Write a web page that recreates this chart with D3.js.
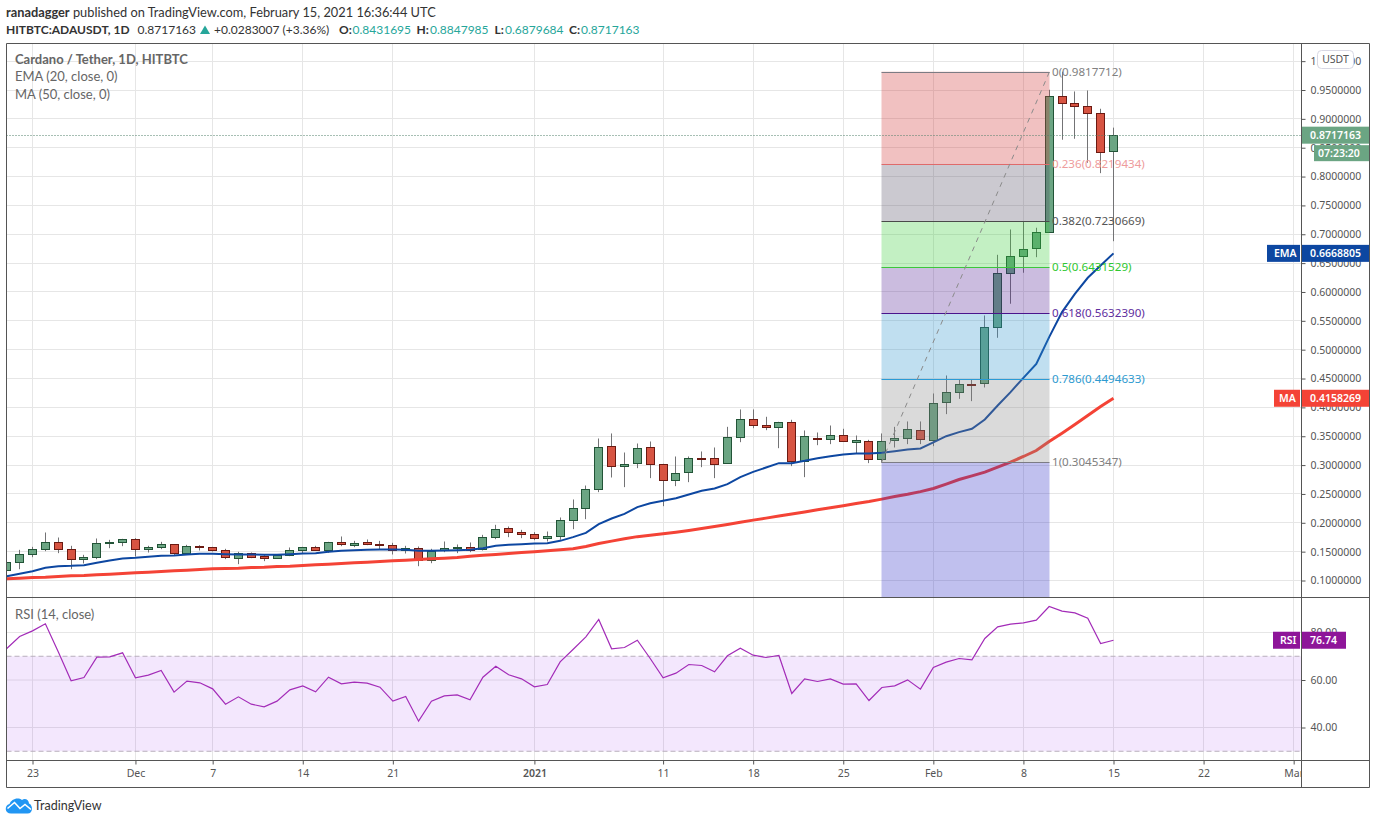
<!DOCTYPE html>
<html>
<head>
<meta charset="utf-8">
<style>
  html, body { margin: 0; padding: 0; background: #fff; }
  svg { display: block; }
  text { font-family: "Noto Sans", sans-serif; }
  .head { font-family: Lato, sans-serif; font-size: 12px; fill: #333; }
  .axis text { font-size: 10.5px; fill: #555; }
  .axis line { stroke: #555; }
  .axis path { display: none; }
  .fib { font-size: 11.6px; }
  .tag { font-size: 10.5px; fill: #fff; font-weight: 600; }
</style>
</head>
<body>
<svg id="chart" width="1376" height="824"></svg>
<script src="https://cdn.jsdelivr.net/npm/d3@7"></script>
<script>
// daily candles, first one is 21 Nov 2020
var firstDay = new Date(Date.UTC(2020, 10, 21));
var opens = [.1179,.1324,.1462,.1543,.1670,.1549,.1370,.1404,.1647,.1664,
  .1722,.1543,.1578,.1630,.1474,.1601,.1583,.1526,.1387,.1479,.1416,.1393,.1445,.1531,.1583,.1531,.1670,.1618,.1659,.1635,.1618,.1531,.1566,.1358,.1526,.1560,.1583,.1543,.1757,.1913,.1843,
  .1809,.1739,.1774,.2051,.2259,.2589,.3334,.2982,.3039,.3317,.3022,.2745,.2883,.3126,.3126,.3039,.3490,.3802,.3698,.3663,.3750,.3074,.3473,.3455,.3525,.3403,.3421,.3109,.3438,.3473,.3611,
  .3432,.4096,.4270,.4408,.4420,.5396,.6332,.6627,.6766,.7043,.9400,.9279,.9227,.9106,.8431695];
var highs = [.1347,.1531,.1583,.1832,.1745,.1601,.1445,.1728,.1705,.1722,
  .1734,.1601,.1670,.1630,.1618,.1612,.1583,.1549,.1497,.1485,.1439,.1445,.1572,.1583,.1601,.1670,.1763,.1687,.1711,.1687,.1653,.1601,.1589,.1549,.1676,.1624,.1659,.1791,.1965,.1936,.1878,
  .1838,.1849,.2092,.2404,.2646,.3461,.3548,.3218,.3374,.3409,.3022,.3149,.3149,.3236,.3305,.3663,.3964,.3964,.3837,.3750,.3785,.3600,.3565,.3686,.3629,.3513,.3438,.3548,.3663,.3756,.3756,
  .4241,.4553,.4484,.4484,.5593,.6644,.7083,.7217,.7113,.9504,.9818,.9475,.9492,.9175,.8847985];
var lows = [.1144,.1196,.1404,.1508,.1474,.1196,.1295,.1370,.1560,.1595,
  .1416,.1485,.1543,.1445,.1474,.1520,.1503,.1370,.1283,.1387,.1335,.1387,.1422,.1474,.1526,.1479,.1595,.1578,.1612,.1537,.1451,.1468,.1248,.1300,.1491,.1474,.1491,.1520,.1716,.1751,.1734,
  .1699,.1676,.1705,.1890,.2063,.2531,.2785,.2618,.2947,.2774,.2288,.2635,.2704,.2964,.2774,.3022,.3397,.3640,.3605,.3293,.2982,.2791,.3345,.3363,.3403,.3207,.3034,.3045,.3305,.3363,.3363,
  .3328,.3883,.4148,.4108,.4345,.5206,.5796,.6333,.6603,.7043,.8638,.8655,.8239,.8059,.6879684];
var closes = [.1324,.1462,.1549,.1670,.1549,.1376,.1410,.1653,.1659,.1722,
  .1549,.1583,.1635,.1474,.1601,.1578,.1531,.1410,.1479,.1410,.1387,.1445,.1531,.1583,.1531,.1670,.1635,.1653,.1630,.1618,.1531,.1566,.1358,.1514,.1566,.1583,.1537,.1757,.1895,.1843,.1809,
  .1739,.1774,.2051,.2259,.2589,.3317,.2982,.3022,.3299,.3022,.2745,.2866,.3126,.3103,.3022,.3490,.3802,.3698,.3663,.3750,.3074,.3507,.3449,.3525,.3421,.3438,.3109,.3421,.3473,.3629,.3455,
  .4079,.4270,.4408,.4385,.5396,.6332,.6627,.6742,.7043,.9400,.9279,.9227,.9106,.8432,.8717163];
var emaValues = [.1075,.1116,.1162,.1220,.1248,.1254,.1266,.1306,.1347,.1381,
  .1393,.1410,.1428,.1433,.1451,.1462,.1462,.1456,.1451,.1451,.1445,.1445,.1456,.1468,.1474,.1497,.1514,.1526,.1531,.1537,.1537,.1531,.1514,.1514,.1520,.1526,.1531,.1560,.1601,.1618,.1630,
  .1641,.1647,.1687,.1751,.1826,.1976,.2075,.2155,.2271,.2340,.2381,.2427,.2490,.2554,.2594,.2670,.2791,.2883,.2958,.3034,.3034,.3074,.3120,.3155,.3184,.3201,.3201,.3213,.3241,.3270,.3288,
  .3392,.3501,.3571,.3629,.3790,.4033,.4264,.4512,.4755,.5217,.5651,.5968,.6246,.6459,.6669];
var maValues = [.1029,.1040,.1052,.1058,.1069,.1081,.1087,.1098,.1110,.1121,
  .1135,.1144,.1156,.1168,.1179,.1191,.1202,.1208,.1214,.1225,.1231,.1243,.1248,.1260,.1272,.1283,.1295,.1306,.1318,.1329,.1342,.1352,.1364,.1376,.1387,.1399,.1422,.1437,.1451,.1466,.1485,
  .1500,.1514,.1531,.1549,.1589,.1641,.1682,.1722,.1760,.1786,.1812,.1838,.1867,.1901,.1936,.1971,.2011,.2046,.2081,.2116,.2152,.2188,.2225,.2259,.2294,.2334,.2369,.2410,.2456,.2495,.2540,
  .2595,.2670,.2750,.2814,.2878,.2964,.3051,.3149,.3253,.3409,.3553,.3704,.3860,.4016,.4158];
var rsiValues = [73.26,78.32,80.70,83.65,71.86,59.65,61.05,69.61,69.75,71.44,
  60.91,62.04,64.00,54.88,59.51,58.81,56.28,49.82,52.91,49.82,48.70,51.09,55.86,57.54,55.02,61.19,58.39,59.09,58.67,56.98,51.09,53.05,42.67,51.09,53.33,53.75,51.65,61.19,65.82,62.18,60.49,
  57.12,58.11,67.65,72.84,78.18,85.47,73.12,73.68,76.77,69.05,60.91,62.88,66.53,66.11,63.44,70.18,73.40,70.46,69.47,70.32,54.32,60.49,59.37,60.49,58.25,58.39,51.37,56.84,57.54,60.07,56.14,
  65.26,67.51,69.05,68.49,77.47,82.39,83.51,84.07,85.19,90.95,88.98,88.28,86.03,75.37,76.74];

var priceTicks = [.1,.15,.2,.25,.3,.35,.4,.45,.5,.55,.6,.65,.7,.75,.8,.85,.9,.95,1];
var rsiTicks = [40, 60, 80];
var rsiBand = [70, 30];
var dateTicks = [[2020,10,23,"23"],[2020,11,1,"Dec"],[2020,11,7,"7"],[2020,11,14,"14"],[2020,11,21,"21"],[2021,0,1,"2021"],[2021,0,11,"11"],[2021,0,18,"18"],[2021,0,25,"25"],[2021,1,1,"Feb"],[2021,1,8,"8"],[2021,1,15,"15"],[2021,1,22,"22"],[2021,2,1,"Mar"]];

// retracement drawn from the 28 Jan low to the 10 Feb high
var fibStart = new Date(Date.UTC(2021, 0, 28));
var fibEnd = new Date(Date.UTC(2021, 1, 10));
var fibPrices = [0.9817712, 0.8219434, 0.7230669, 0.6431529, 0.5632390, 0.4494633, 0.3045347];
var fibLabels = ["0(0.9817712)", "0.236(0.8219434)", "0.382(0.7230669)", "0.5(0.6431529)", "0.618(0.5632390)", "0.786(0.4494633)", "1(0.3045347)"];
var fibLineColors = ["#7c7c84", "#e06a6a", "#4a4a4a", "#3cc53c", "#4a148c", "#2a9bd6", "#7c7c84"];
var fibTextColors = ["#808080", "#ee9c9c", "#555555", "#2fc72f", "#5e2d9e", "#2d9ad0", "#808080"];
var fibFills = ["rgba(210,50,50,.3)", "rgba(82,75,98,.3)", "rgba(55,205,55,.3)", "rgba(82,32,148,.3)", "rgba(48,148,205,.3)", "rgba(132,132,132,.3)", "rgba(45,45,198,.3)"];

var GREEN = "#6ba583", GREEN_EDGE = "#225437", RED = "#d75442", RED_EDGE = "#6b1a12";
var EMA_COLOR = "#0d47a1", MA_COLOR = "#f44336", RSI_COLOR = "#a32cb8";

var left = 6.5, right = 1301.5, outerRight = 1369.5, top_ = 43.5, mainBottom = 597.5, rsiBottom = 760.5, outerBottom = 787.5;

var days = d3.utcDay.range(firstDay, new Date(Date.UTC(2021, 1, 16)));
var x = d3.scaleUtc()
  .domain([new Date(Date.UTC(2020, 10, 23)), new Date(Date.UTC(2021, 1, 15))])
  .range([32.5, 1113.5]);
var y = d3.scaleLinear().domain([0.1, 0.95]).range([580.5, 90]);
var yRsi = d3.scaleLinear().domain([40, 80]).range([727.5, 632.5]);

function px(d) { return Math.round(x(d) - 0.5) + 0.5; }

var svg = d3.select("#chart");
var defs = svg.append("defs");
defs.append("clipPath").attr("id", "mainClip").append("rect")
  .attr("x", left).attr("y", top_).attr("width", right - left).attr("height", mainBottom - top_);
defs.append("clipPath").attr("id", "rsiClip").append("rect")
  .attr("x", left).attr("y", mainBottom).attr("width", right - left).attr("height", rsiBottom - mainBottom);
defs.append("clipPath").attr("id", "timeClip").append("rect")
  .attr("x", left).attr("y", rsiBottom).attr("width", right - left).attr("height", outerBottom - rsiBottom);

var tickDates = dateTicks.map(function (t) { return new Date(Date.UTC(t[0], t[1], t[2])); });

// grid
var grid = svg.append("g").attr("stroke", "#e6e6e6").attr("stroke-width", 1);
grid.selectAll(".vg").data(tickDates).enter().append("line")
  .attr("x1", px).attr("x2", px).attr("y1", top_).attr("y2", rsiBottom);
grid.selectAll(".hg").data(priceTicks).enter().append("line")
  .attr("x1", left).attr("x2", right)
  .attr("y1", function (d) { return Math.round(y(d) - 0.5) + 0.5; })
  .attr("y2", function (d) { return Math.round(y(d) - 0.5) + 0.5; });
grid.selectAll(".hr").data(rsiTicks).enter().append("line")
  .attr("x1", left).attr("x2", right)
  .attr("y1", yRsi).attr("y2", yRsi);

// candles
var candles = svg.append("g").attr("clip-path", "url(#mainClip)");
var candle = candles.selectAll("g").data(days).enter().append("g");
candle.append("line")
  .attr("x1", px).attr("x2", px)
  .attr("y1", function (d, i) { return y(highs[i]); })
  .attr("y2", function (d, i) { return y(lows[i]); })
  .attr("stroke", "#737375");
candle.append("rect")
  .attr("x", function (d) { return px(d) - 4; })
  .attr("width", 8)
  .attr("y", function (d, i) { return Math.round(y(Math.max(opens[i], closes[i]))) + 0.5; })
  .attr("height", function (d, i) { return Math.max(1, Math.round(Math.abs(y(opens[i]) - y(closes[i])))); })
  .attr("fill", function (d, i) { return closes[i] >= opens[i] ? GREEN : RED; })
  .attr("stroke", function (d, i) { return closes[i] >= opens[i] ? GREEN_EDGE : RED_EDGE; });

// moving averages
var priceLine = d3.line().x(function (d, i) { return x(days[i]); }).y(function (d) { return y(d); });
candles.append("path").attr("d", priceLine(maValues))
  .attr("fill", "none").attr("stroke", MA_COLOR).attr("stroke-width", 3);
candles.append("path").attr("d", priceLine(emaValues))
  .attr("fill", "none").attr("stroke", EMA_COLOR).attr("stroke-width", 2);

// fib overlay sits over the candles
var fib = svg.append("g").attr("clip-path", "url(#mainClip)");
var fibX0 = px(fibStart), fibX1 = px(fibEnd);
fibPrices.forEach(function (p, i) {
  var yTop = y(p);
  var yBot = i < fibPrices.length - 1 ? y(fibPrices[i + 1]) : mainBottom;
  fib.append("rect").attr("x", fibX0).attr("width", fibX1 - fibX0)
    .attr("y", yTop).attr("height", yBot - yTop).attr("fill", fibFills[i]);
});
fib.selectAll("line.level").data(fibPrices).enter().append("line")
  .attr("class", "level")
  .attr("x1", fibX0).attr("x2", fibX1)
  .attr("y1", function (d) { return Math.round(y(d)) + 0.5; })
  .attr("y2", function (d) { return Math.round(y(d)) + 0.5; })
  .attr("stroke", function (d, i) { return fibLineColors[i]; });
fib.append("line")
  .attr("x1", fibX0).attr("y1", y(fibPrices[6]))
  .attr("x2", fibX1).attr("y2", y(fibPrices[0]))
  .attr("stroke", "#8a8a8a").attr("stroke-dasharray", "5 5");
svg.selectAll("text.fib").data(fibLabels).enter().append("text")
  .attr("class", "fib")
  .attr("x", fibX1 + 2.5)
  .attr("y", function (d, i) { return y(fibPrices[i]) + 4; })
  .attr("fill", function (d, i) { return fibTextColors[i]; })
  .text(function (d) { return d; });

// last price line
svg.append("line")
  .attr("x1", left).attr("x2", right)
  .attr("y1", Math.round(y(closes[closes.length - 1])) + 0.5)
  .attr("y2", Math.round(y(closes[closes.length - 1])) + 0.5)
  .attr("stroke", "#4f7f68").attr("stroke-dasharray", "1 2");

// rsi pane
svg.append("rect")
  .attr("x", left).attr("width", right - left)
  .attr("y", yRsi(rsiBand[0])).attr("height", yRsi(rsiBand[1]) - yRsi(rsiBand[0]))
  .attr("fill", "rgba(150,40,235,.11)");
svg.selectAll("line.band").data(rsiBand).enter().append("line")
  .attr("class", "band")
  .attr("x1", left).attr("x2", right)
  .attr("y1", yRsi).attr("y2", yRsi)
  .attr("stroke", "#b8aebc").attr("stroke-dasharray", "5 3");
var rsiLine = d3.line().x(function (d, i) { return x(days[i]); }).y(function (d) { return yRsi(d); });
svg.append("path").attr("d", rsiLine(rsiValues))
  .attr("clip-path", "url(#rsiClip)")
  .attr("fill", "none").attr("stroke", RSI_COLOR).attr("stroke-width", 1.2);

// axes
var priceAxis = d3.axisRight(y).tickValues(priceTicks).tickFormat(d3.format(".7f")).tickSize(4).tickPadding(5);
svg.append("g").attr("class", "axis").attr("transform", "translate(" + right + ",0)").call(priceAxis);
var rsiAxis = d3.axisRight(yRsi).tickValues(rsiTicks).tickFormat(d3.format(".2f")).tickSize(4).tickPadding(5);
svg.append("g").attr("class", "axis").attr("transform", "translate(" + right + ",0)").call(rsiAxis);
var timeAxis = d3.axisBottom(x).tickValues(tickDates)
  .tickFormat(function (d, i) { return dateTicks[i][3]; }).tickSize(4).tickPadding(5);
// clip on a wrapper so "Mar" is cut at the price scale
var timeG = svg.append("g").attr("clip-path", "url(#timeClip)").append("g").attr("class", "axis")
  .attr("transform", "translate(0," + rsiBottom + ")").call(timeAxis);
timeG.selectAll("text").filter(function (d, i) { return dateTicks[i][3] === "2021"; }).attr("font-weight", 600);

// frame
var frame = [[left, top_, outerRight, top_], [left, top_, left, outerBottom], [left, outerBottom, outerRight, outerBottom],
  [outerRight, top_, outerRight, outerBottom], [right, top_, right, outerBottom],
  [left, mainBottom, outerRight, mainBottom], [left, rsiBottom, outerRight, rsiBottom]];
svg.selectAll("line.frame").data(frame).enter().append("line")
  .attr("class", "frame")
  .attr("x1", function (d) { return d[0]; }).attr("y1", function (d) { return d[1]; })
  .attr("x2", function (d) { return d[2]; }).attr("y2", function (d) { return d[3]; })
  .attr("stroke", "#555");

// price tags on the axis
function tag(x0, x1, cy, h, color, label, anchorX) {
  svg.append("rect").attr("x", x0).attr("y", cy - h / 2).attr("width", x1 - x0).attr("height", h).attr("fill", color);
  svg.append("text").attr("class", "tag").attr("x", anchorX).attr("y", cy + 4).text(label);
}
var lastY = y(closes[closes.length - 1]);
tag(1302, 1369, lastY, 17, GREEN, "0.8717163", 1310);
tag(1314, 1369, lastY + 18, 16, GREEN, "07:23:20", 1318);
var emaY = y(emaValues[emaValues.length - 1]);
tag(1267, 1300, emaY, 17, EMA_COLOR, "EMA", 1274);
tag(1302, 1369, emaY, 17, EMA_COLOR, "0.6668805", 1310);
var maY = y(maValues[maValues.length - 1]);
tag(1274, 1300, maY, 17, MA_COLOR, "MA", 1279);
tag(1302, 1369, maY, 17, MA_COLOR, "0.4158269", 1310);
var rsiY = yRsi(rsiValues[rsiValues.length - 1]);
tag(1273, 1300, rsiY, 17, "#8e1599", "RSI", 1280);
tag(1302, 1346, rsiY, 17, "#8e1599", "76.74", 1310);

// currency button
svg.append("rect").attr("x", 1317.5).attr("y", 50.5).attr("width", 36).attr("height", 18).attr("rx", 4)
  .attr("fill", "#fff").attr("stroke", "#d8d8e4");
svg.append("text").attr("x", 1335.5).attr("y", 63).attr("text-anchor", "middle")
  .attr("font-size", 10.5).attr("fill", "#555").text("USDT");

// pane legends
svg.append("text").attr("class", "head").attr("x", 15).attr("y", 64)
  .style("font-size", "13px").style("font-weight", 700).style("fill", "#666").text("Cardano / Tether, 1D, HITBTC");
svg.append("text").attr("class", "head").attr("x", 15).attr("y", 81)
  .style("font-size", "13px").style("fill", "#666").text("EMA (20, close, 0)");
svg.append("text").attr("class", "head").attr("x", 15).attr("y", 99)
  .style("font-size", "13px").style("fill", "#666").text("MA (50, close, 0)");
svg.append("text").attr("class", "head").attr("x", 15).attr("y", 619)
  .style("font-size", "13px").style("fill", "#666").text("RSI (14, close)");

// header
var h1 = svg.append("text").attr("class", "head").attr("x", 6).attr("y", 17).style("font-size", "12.8px");
h1.append("tspan").style("font-weight", 700).text("ranadagger");
h1.append("tspan").text(" published on TradingView.com, February 15, 2021 16:36:44 UTC");
var TEAL = "#26a69a";
var header2 = [[6, "HITBTC:ADAUSDT, 1D", "#333", 700], [137.5, "0.8717163", "#333", 400],
  [214, "+0.0283007 (+3.36%)", "#333", 400], [339, "O:", "#333", 700], [352.5, "0.8431695", TEAL, 400],
  [416.5, "H:", "#333", 700], [430, "0.8847985", TEAL, 400], [494.5, "L:", "#333", 700], [505, "0.6879684", TEAL, 400],
  [569, "C:", "#333", 700], [581, "0.8717163", TEAL, 400]];
svg.selectAll("text.h2").data(header2).enter().append("text")
  .attr("class", "head h2")
  .attr("x", function (d) { return d[0]; }).attr("y", 34)
  .style("fill", function (d) { return d[2]; })
  .style("font-weight", function (d) { return d[3]; })
  .text(function (d) { return d[1]; });
svg.append("path").attr("d", "M200 34 L205 25.5 L210 34 Z").attr("fill", TEAL);

// logo
var logo = svg.append("g");
logo.append("path")
  .attr("d", "M11 813.5 C4.5 813.5 4 805.5 9.5 804 C11 799.5 17.5 796.5 22 800 C25 797.5 29 800 29 803.5 C33 805 33.5 813.5 27.5 813.5 Z")
  .attr("fill", "#2196f3");
logo.append("path").attr("d", "M7.5 808.5 L14.5 802.5 L20 808.5 L25 804.5 L31 809.5")
  .attr("fill", "none").attr("stroke", "#fff").attr("stroke-width", 1.6);
svg.append("text").attr("x", 34).attr("y", 810).attr("font-size", 12.5).attr("fill", "#333")
  .style("font-family", "Lato, sans-serif").text("TradingView");
</script>
</body>
</html>
